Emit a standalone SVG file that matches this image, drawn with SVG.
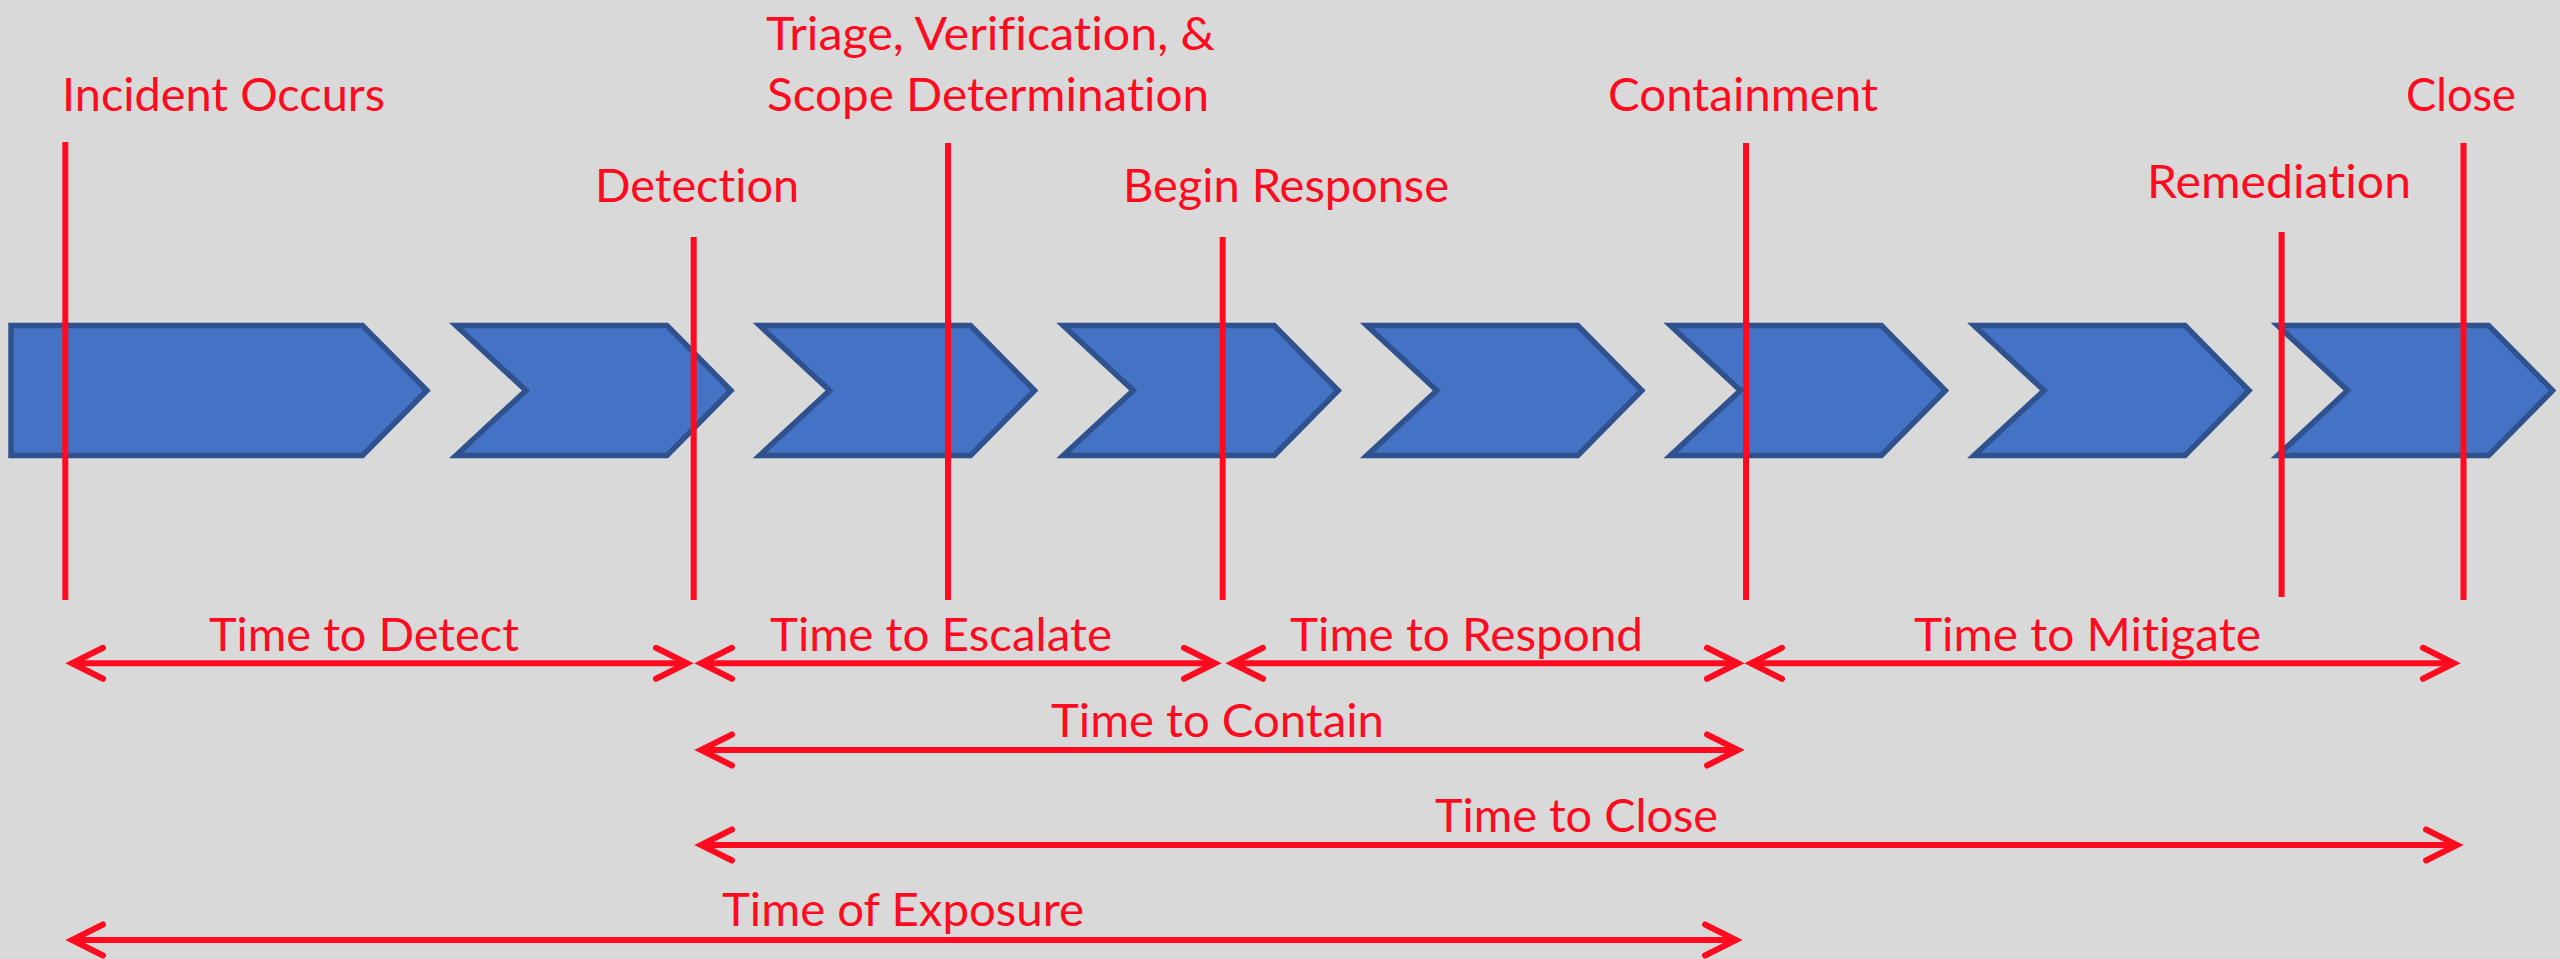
<svg xmlns="http://www.w3.org/2000/svg" width="2560" height="959" viewBox="0 0 2560 959">
  <style>
    .chev { fill: #4472C4; stroke: #2F528F; stroke-width: 5.5; stroke-linejoin: miter; }
    .mark { stroke: #FF0A1E; stroke-width: 6; fill: none; }
    .span { stroke: #FF0A1E; stroke-width: 6; fill: none; marker-start: url(#tip); marker-end: url(#tip); }
    .lbl { font-family: Lato, "Open Sans", "DejaVu Sans", sans-serif; font-size: 46px; fill: #FF0A1E; font-variant-ligatures: none; font-feature-settings: "liga" 0; }
  </style>
  <defs>
    <!-- open chevron arrowhead used on both ends of every duration span -->
    <marker id="tip" markerUnits="userSpaceOnUse" markerWidth="60" markerHeight="60" viewBox="-45 -30 60 60" refX="0" refY="0" orient="auto-start-reverse" overflow="visible">
      <path d="M-31,-15.5 L0,0 L-31,15.5" fill="none" stroke="#FF0A1E" stroke-width="6" stroke-linecap="round" stroke-linejoin="miter"/>
    </marker>
  </defs>

  <rect width="2560" height="959" fill="#D9D9D9"/>

  <!-- process chevrons -->
  <g id="chevrons">
    <path id="chev0" class="chev" d="M11,325.5 H362.5 L427,390.5 L362.5,455.5 H11 Z"/>
    <path id="chev1" class="chev" d="M456,325.5 H667 L731,390.5 L667,455.5 H456 L526,390.5 Z"/>
    <path id="chev2" class="chev" d="M759.6,325.5 H970.6 L1034.6,390.5 L970.6,455.5 H759.6 L829.6,390.5 Z"/>
    <path id="chev3" class="chev" d="M1063.2,325.5 H1274.2 L1338.2,390.5 L1274.2,455.5 H1063.2 L1133.2,390.5 Z"/>
    <path id="chev4" class="chev" d="M1366.8,325.5 H1577.8 L1641.8,390.5 L1577.8,455.5 H1366.8 L1436.8,390.5 Z"/>
    <path id="chev5" class="chev" d="M1670.4,325.5 H1881.4 L1945.4,390.5 L1881.4,455.5 H1670.4 L1740.4,390.5 Z"/>
    <path id="chev6" class="chev" d="M1974,325.5 H2185 L2249,390.5 L2185,455.5 H1974 L2044,390.5 Z"/>
    <path id="chev7" class="chev" d="M2277.6,325.5 H2488.6 L2552.6,390.5 L2488.6,455.5 H2277.6 L2347.6,390.5 Z"/>
  </g>

  <!-- milestones: label plus vertical marker -->
  <g id="incident-occurs">
    <line class="mark" x1="65.3" y1="142" x2="65.3" y2="600"/>
    <text class="lbl" x="62" y="110.7" textLength="323" lengthAdjust="spacingAndGlyphs">Incident Occurs</text>
  </g>
  <g id="detection">
    <line class="mark" x1="693.7" y1="237" x2="693.7" y2="600"/>
    <text class="lbl" x="595" y="201.5" textLength="204" lengthAdjust="spacingAndGlyphs">Detection</text>
  </g>
  <g id="triage">
    <line class="mark" x1="948" y1="143" x2="948" y2="600"/>
    <text class="lbl" x="766" y="50" textLength="449" lengthAdjust="spacingAndGlyphs">Triage, Verification, &amp;</text>
    <text class="lbl" x="767" y="111" textLength="442" lengthAdjust="spacingAndGlyphs">Scope Determination</text>
  </g>
  <g id="begin-response">
    <line class="mark" x1="1222.7" y1="237" x2="1222.7" y2="600"/>
    <text class="lbl" x="1123" y="202.3" textLength="326" lengthAdjust="spacingAndGlyphs">Begin Response</text>
  </g>
  <g id="containment">
    <line class="mark" x1="1746" y1="143" x2="1746" y2="600"/>
    <text class="lbl" x="1608" y="110.7" textLength="270" lengthAdjust="spacingAndGlyphs">Containment</text>
  </g>
  <g id="remediation">
    <line class="mark" x1="2281.6" y1="232" x2="2281.6" y2="597"/>
    <text class="lbl" x="2147" y="198.3" textLength="264" lengthAdjust="spacingAndGlyphs">Remediation</text>
  </g>
  <g id="close">
    <line class="mark" x1="2463.5" y1="143" x2="2463.5" y2="600"/>
    <text class="lbl" x="2406" y="110.7" textLength="110" lengthAdjust="spacingAndGlyphs">Close</text>
  </g>

  <!-- duration spans -->
  <g id="connectors">
    <g id="time-to-detect">
      <line class="span" x1="72" y1="663.3" x2="687" y2="663.3"/>
      <text class="lbl" x="209" y="650.7" textLength="310" lengthAdjust="spacingAndGlyphs">Time to Detect</text>
    </g>
    <g id="time-to-escalate">
      <line class="span" x1="701" y1="663.3" x2="1215" y2="663.3"/>
      <text class="lbl" x="770" y="650.7" textLength="342" lengthAdjust="spacingAndGlyphs">Time to Escalate</text>
    </g>
    <g id="time-to-respond">
      <line class="span" x1="1232" y1="663.3" x2="1738" y2="663.3"/>
      <text class="lbl" x="1290" y="650.7" textLength="353" lengthAdjust="spacingAndGlyphs">Time to Respond</text>
    </g>
    <g id="time-to-mitigate">
      <line class="span" x1="1751" y1="663.3" x2="2454" y2="663.3"/>
      <text class="lbl" x="1914" y="650.7" textLength="347" lengthAdjust="spacingAndGlyphs">Time to Mitigate</text>
    </g>
    <g id="time-to-contain">
      <line class="span" x1="701" y1="750" x2="1738" y2="750"/>
      <text class="lbl" x="1051" y="736.7" textLength="333" lengthAdjust="spacingAndGlyphs">Time to Contain</text>
    </g>
    <g id="time-to-close">
      <line class="span" x1="701" y1="845" x2="2457" y2="845"/>
      <text class="lbl" x="1435" y="831.5" textLength="283" lengthAdjust="spacingAndGlyphs">Time to Close</text>
    </g>
    <g id="time-of-exposure">
      <line class="span" x1="72" y1="940" x2="1736" y2="940"/>
      <text class="lbl" x="722" y="925.5" textLength="362" lengthAdjust="spacingAndGlyphs">Time of Exposure</text>
    </g>
  </g>
</svg>
